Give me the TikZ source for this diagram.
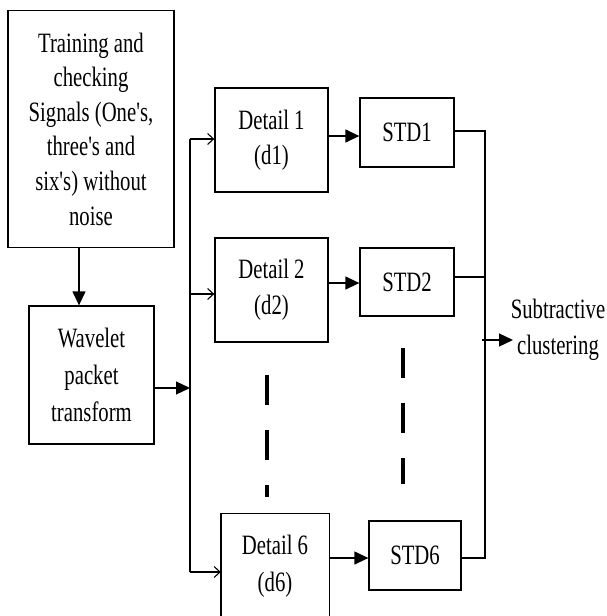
\documentclass[tikz,border=0pt]{standalone}
\usepackage{fontspec}
\setmainfont{Liberation Serif}[FakeStretch=0.74,Ligatures=TeXOff]
\usetikzlibrary{arrows.meta,calc}
\begin{document}
\begin{tikzpicture}[x=1pt,y=-1pt,line width=1.3pt,
  box/.style={draw,line width=1.3pt,inner sep=0pt,align=center,font=\fontsize{28}{34.6}\selectfont},
  lbl/.style={inner sep=0pt,align=center,font=\fontsize{28}{36}\selectfont},
  fa/.style={-{Triangle[length=14pt,width=13pt]}},
  oa/.style={-{Straight Barb[length=6pt,width=11pt,line width=1.1pt]}},
  dotsline/.style={line width=4pt,dash pattern=on 30pt off 25pt}]
\path[use as bounding box,clip] (0,0) rectangle (607,616);

% boxes
\node[box,minimum width=166pt,minimum height=237pt] (src) at (91,129)
  {Training and\\checking\\Signals (One's,\\three's and\\six's) without\\noise};
\node[box,minimum width=125pt,minimum height=138pt,font=\fontsize{28}{37}\selectfont] (wpt) at (91.5,375)
  {Wavelet\\packet\\transform};
\node[box,minimum width=113pt,minimum height=104pt,font=\fontsize{28}{35}\selectfont] (d1) at (271.5,140) {Detail 1\\(d1)};
\node[box,minimum width=113pt,minimum height=104pt,font=\fontsize{28}{36}\selectfont] (d2) at (271.5,290) {Detail 2\\(d2)};
\node[box,draw=none,minimum width=107pt,minimum height=104pt,font=\fontsize{28}{37}\selectfont] (d6) at (275,566) {Detail 6\\(d6)};
\draw (d6.south west) -- (d6.north west) -- (d6.north east) -- (d6.south east);
\node[box,minimum width=94pt,minimum height=69pt] (s1) at (407,132.5) {STD1};
\node[box,minimum width=94pt,minimum height=68pt] (s2) at (407,282) {STD2};
\node[box,minimum width=92pt,minimum height=69pt] (s6) at (415,555.5) {STD6};
\node[lbl] (out) at (558,330) {Subtractive\\clustering};

% source to wavelet
\draw[fa] ([xshift=-12pt]src.south) -- ([xshift=-12.5pt]wpt.north);

% left bus
\coordinate (bt) at (190,139);
\coordinate (b2) at (190,294);
\coordinate (bm) at (190,388);
\coordinate (bb) at (190,572);
\draw (bt) -- (bb);
\draw[fa] (wpt.east |- bm) -- (bm);
\draw[oa] (bt) -- (d1.west |- bt);
\draw[oa] (b2) -- (d2.west |- b2);
\draw[oa] (bb) -- (d6.west |- bb);

% detail to std
\coordinate (r1) at (0,136);
\coordinate (r2) at (0,283);
\coordinate (r6) at (0,558);
\draw[fa] (d1.east |- r1) -- (s1.west |- r1);
\draw[fa] (d2.east |- r2) -- (s2.west |- r2);
\draw[fa] (d6.east |- r6) -- (s6.west |- r6);

% right bus
\coordinate (rt) at (485,131);
\coordinate (rs2) at (485,277);
\coordinate (rm) at (482,340);
\coordinate (rb) at (485,558);
\coordinate (ot) at (513,340);
\draw (s1.east |- rt) -- (rt) -- (rb) -- (s6.east |- rb);
\draw (s2.east |- rs2) -- (rs2);
\draw[fa] (rm) -- (ot);

% continuation marks
\draw[dotsline] (267,375) -- (267,497);
\draw[dotsline] (403,348) -- (403,484);
\end{tikzpicture}
\end{document}
